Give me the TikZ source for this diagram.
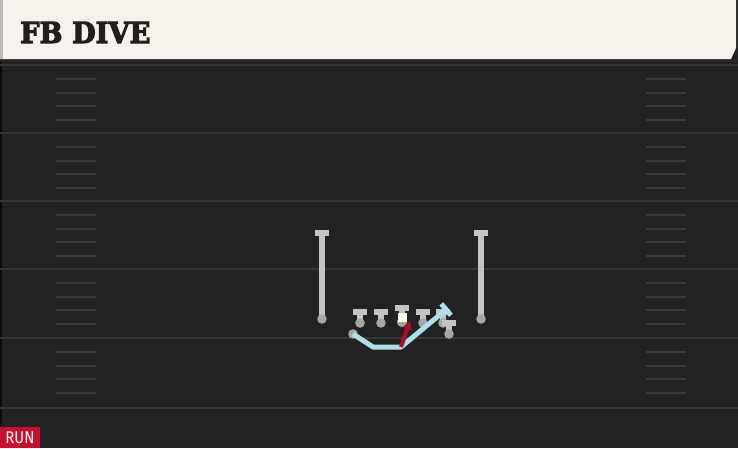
\documentclass[tikz,border=0pt]{standalone}
\usepackage{fontspec}
\newfontfamily\titlefont{DejaVu Serif}
\newfontfamily\tagfont{Fira Sans}
\usetikzlibrary{arrows.meta}
\definecolor{fieldclr}{HTML}{222222}
\definecolor{lineclr}{HTML}{383838}
\definecolor{hashclr}{HTML}{3A3A3A}
\definecolor{headclr}{HTML}{F5F2EB}
\definecolor{playerclr}{HTML}{C4C4C4}
\definecolor{ballclr}{HTML}{A6A6A6}
\definecolor{routeclr}{HTML}{ADDFEB}
\definecolor{diveclr}{HTML}{A8102A}
\definecolor{tagclr}{HTML}{C8102E}

% one player: T on top, ball at the foot
\newcommand\player[4]{%
  \coordinate (#1) at (#2,#3);
  \coordinate (#1-b) at (#2,#4);
  \draw [stem] (#1) -- (#1-b);
  \draw [tbar] ([xshift=-7pt]#1) -- ([xshift=7pt]#1);
  \fill [ball] (#1-b) circle [radius=4.8pt];
}
% heavier title lettering
\newcommand\heavy[1]{\special{pdf:literal direct 2 Tr 1.1 w}#1\special{pdf:literal direct 0 Tr}}

\begin{document}
\begin{tikzpicture}
    [ x=1pt, y=-1pt
    , yardline/.style={draw=lineclr, line width=2.2pt}
    , hash/.style={draw=hashclr, line width=2pt}
    , stem/.style={draw=playerclr, line width=5.5pt}
    , tbar/.style={draw=playerclr, line width=5.5pt}
    , ball/.style={fill=ballclr}
    , route/.style={draw=routeclr, line width=5pt}
    , dive/.style={draw=diveclr, line width=4pt}
    ]
    \useasboundingbox (0,0) rectangle (738,448);

    % field
    \fill [fieldclr] (0,0) rectangle (738,448);
    \fill [black!70!fieldclr] (0,60) rectangle (2,448);
    \foreach \y in {65,133,201,269,338,408}
      \draw [yardline] (0,\y) -- (738,\y);
    \foreach \y in {65,133,201,269,338}
      \foreach \d in {14,28,41,55} {
        \draw [hash] (56,\y+\d) -- (96,\y+\d);
        \draw [hash] (646,\y+\d) -- (686,\y+\d);
      }

    % header
    \fill [black!85] (0,58) rectangle (738,62);
    \fill [headclr] (0,0) -- (736,0) -- (736,48) -- (731,59) -- (0,59) -- cycle;
    \fill [gray!55] (0,0) rectangle (3,59);
    \node (title) [anchor=base west, inner sep=0pt, text=black!88, xscale=0.94]
      at (20,43) {\titlefont\bfseries\fontsize{29}{29}\selectfont\heavy{FB DIVE}};

    % players
    \player{wrl}{322}{233}{319}
    \player{wrr}{481}{233}{319}
    \foreach \x [count=\i] in {360,381,423,443}
      \player{ol\i}{\x}{312}{323}
    \player{c}{402}{308}{322}
    \fill [white!92!yellow] (397.5,313) rectangle (406.5,322);
    \player{te}{449}{323}{334}
    \fill [ball] (353,334) circle [radius=4.8pt];
    \coordinate (fb) at (353,334);
    \coordinate (fb-1) at (373,347);
    \coordinate (fb-2) at (401,347);
    \coordinate (fb-end) at (448,308);
    \coordinate (dive-end) at (410,321);

    % routes
    \draw [route, line join=round, -{Bar[width=15pt]}]
      (fb) -- (fb-1) -- (fb-2) -- (fb-end);
    \draw [dive, -{Triangle[length=8pt,width=9pt]}] (fb-2) -- (dive-end);

    % tag
    \fill [tagclr] (0,427) rectangle (40,448);
    \node (tag) [anchor=base, inner sep=0pt, text=white, xscale=0.88]
      at (20,443) {\tagfont\fontsize{17}{17}\selectfont RUN};
\end{tikzpicture}
\end{document}
